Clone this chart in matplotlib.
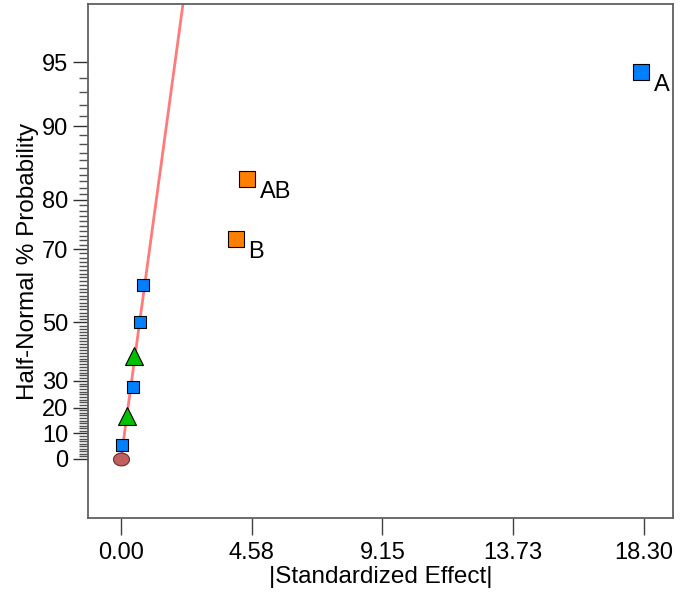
import numpy as np
import matplotlib.pyplot as plt
from matplotlib.path import Path
from statistics import NormalDist

plt.rcParams['font.family'] = ['Liberation Sans', 'DejaVu Sans']

# data
effect_names = ['A', 'AB', 'B']
effect_x = [18.21, 4.42, 4.01]
effect_p = [94.4, 83.3, 72.2]
effect_colors = ['#0080ff', '#ff8000', '#ff8000']

sq_x = [0.04, 0.43, 0.68, 0.78]
sq_p = [5.56, 27.8, 50.0, 61.1]
tri_x = [0.20, 0.46]
tri_p = [16.7, 38.9]
circ_x = [0.0]
circ_p = [0.0]

line_slope = 0.965          # effect per unit of half-normal z
xtick_vals = [0, 4.575, 9.15, 13.725, 18.30]
xtick_labels = ['0.00', '4.58', '9.15', '13.73', '18.30']
ytick_vals = [0, 10, 20, 30, 50, 70, 80, 90, 95]


def hn(p):
    # half-normal probability (%) -> z
    return np.array([NormalDist().inv_cdf(0.5 + v / 200.0) for v in np.atleast_1d(p)])


fig = plt.figure(figsize=(6.8, 5.96), dpi=100)
ax = fig.add_axes([88 / 680, 1 - 518 / 596, 585 / 680, 514 / 596])

# fitted line
zz = np.linspace(0, 2.4, 50)
ax.plot(line_slope * zz, zz, color='#ff7a7a', lw=2, zorder=1)

# ellipse marker
t = np.linspace(0, 2 * np.pi, 60)
ell = Path(np.column_stack([np.cos(t), 0.8 * np.sin(t)]), closed=True)

ax.plot(circ_x, hn(circ_p), ls='none', marker=ell, ms=11.5, mfc='#c0605e',
        mec='#6a2a2a', mew=0.8, zorder=3)
ax.plot(sq_x, hn(sq_p), ls='none', marker='s', ms=8.2, mfc='#0080ff',
        mec='black', mew=0.8, zorder=3)
ax.plot(tri_x, hn(tri_p), ls='none', marker='^', ms=12.5, mfc='#00c000',
        mec='black', mew=0.8, zorder=3)
for name, x, p, c in zip(effect_names, effect_x, effect_p, effect_colors):
    z = hn(p)[0]
    ax.plot([x], [z], ls='none', marker='s', ms=11, mfc=c, mec='black',
            mew=0.8, zorder=3)
    ax.annotate(name, (x, z), xytext=(9, -1), textcoords='offset points',
                ha='left', va='top', fontsize=17)

ax.set_xlim(-1.155, 19.32)
ax.set_ylim(-0.292, 2.248)

ax.set_xticks(xtick_vals)
ax.set_xticklabels(xtick_labels)
ax.set_yticks(hn(ytick_vals))
ax.set_yticklabels([str(v) for v in ytick_vals])
minor = [v for v in range(0, 96) if v not in ytick_vals]
ax.set_yticks(hn(minor), minor=True)

for s in ax.spines.values():
    s.set_color('#606060')
    s.set_linewidth(1.3)

ax.tick_params(axis='x', length=12, width=1, color='#404040', labelsize=17, pad=5)
ax.tick_params(axis='y', which='major', length=11, width=1, color='#303030',
               labelsize=17, pad=3)
ax.tick_params(axis='y', which='minor', length=6.5, width=1, color='#505050')

ax.set_xlabel('|Standardized Effect|', fontsize=17.5, labelpad=2)
ax.set_ylabel('Half-Normal % Probability', fontsize=17.5, labelpad=2)

fig.savefig('out.png', dpi=100)
